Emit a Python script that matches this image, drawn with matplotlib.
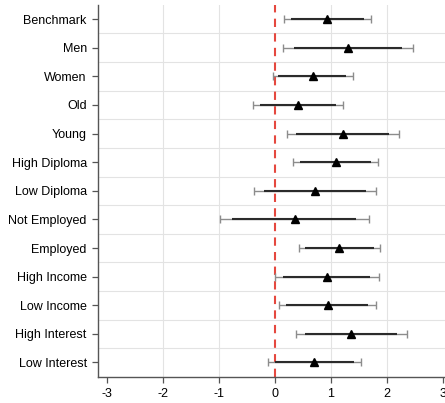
import matplotlib.pyplot as plt
import numpy as np

plt.rcParams['font.family'] = ['Liberation Sans', 'DejaVu Sans']
plt.rcParams['axes.unicode_minus'] = False

groups = ['Benchmark', 'Men', 'Women', 'Old', 'Young', 'High Diploma',
          'Low Diploma', 'Not Employed', 'Employed', 'High Income',
          'Low Income', 'High Interest', 'Low Interest']
coef = [0.93, 1.30, 0.68, 0.41, 1.21, 1.08, 0.71, 0.35, 1.15, 0.93, 0.95, 1.35, 0.70]
lo95 = [0.16, 0.15, -0.04, -0.39, 0.21, 0.32, -0.38, -0.98, 0.43, 0.00, 0.07, 0.37, -0.12]
hi95 = [1.71, 2.46, 1.39, 1.21, 2.21, 1.83, 1.80, 1.67, 1.87, 1.86, 1.81, 2.35, 1.53]
lo90 = [0.29, 0.34, 0.05, -0.27, 0.37, 0.45, -0.20, -0.76, 0.54, 0.14, 0.20, 0.53, 0.00]
hi90 = [1.58, 2.27, 1.27, 1.08, 2.04, 1.71, 1.62, 1.45, 1.76, 1.70, 1.66, 2.18, 1.41]

y = np.arange(len(groups))[::-1]

fig = plt.figure(figsize=(4.45, 4.03), dpi=100)
ax = fig.add_axes([0.22, 0.065, 0.796, 0.923])

# light grid: vertical at ticks, horizontal between rows
for v in [-2, -1, 1, 2]:
    ax.axvline(v, color='#e3e3e3', lw=0.8, zorder=0)
for h in np.arange(0.5, len(groups) - 1, 1):
    ax.axhline(h, color='#e3e3e3', lw=0.8, zorder=0)

ax.axvline(0, color='#e5483f', lw=1.5, ls=(0, (4, 3)), zorder=1)

c = np.array(coef)
ax.errorbar(c, y, xerr=[c - np.array(lo95), np.array(hi95) - c], fmt='none',
            ecolor='#8c8c8c', elinewidth=1.0, capsize=3, capthick=1.0, zorder=2)
ax.hlines(y, lo90, hi90, color='#2b2b2b', lw=1.5, zorder=3)
ax.plot(coef, y, '^', color='black', ms=6, zorder=4)

ax.set_xlim(-3.16, 3.16)
ax.set_ylim(-0.5, len(groups) - 0.5)
ax.set_xticks([-3, -2, -1, 0, 1, 2, 3])
ax.set_yticks(y)
ax.set_yticklabels(groups)
ax.tick_params(axis='both', colors='#555555', labelcolor='black', labelsize=9,
               length=4.5, width=0.9)
for s in ['top', 'right']:
    ax.spines[s].set_visible(False)
for s in ['left', 'bottom']:
    ax.spines[s].set_color('#555555')
    ax.spines[s].set_linewidth(1.0)

fig.savefig('out.png', dpi=100)
